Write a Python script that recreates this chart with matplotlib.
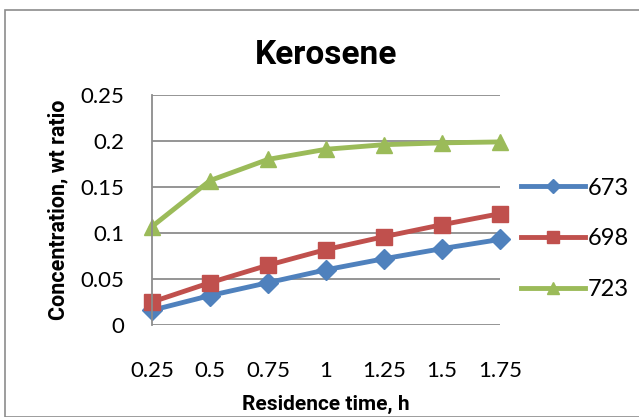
import numpy as np
import matplotlib.pyplot as plt
from matplotlib.patches import Rectangle

plt.rcParams['font.family'] = ['Lato', 'DejaVu Sans']
bold_font = ['Roboto', 'DejaVu Sans']

# residence time (h) and concentration (wt ratio) at three temperatures
time_h = ['0.25', '0.5', '0.75', '1', '1.25', '1.5', '1.75']
c_673 = [0.016, 0.032, 0.046, 0.060, 0.072, 0.083, 0.093]
c_698 = [0.025, 0.046, 0.065, 0.082, 0.096, 0.109, 0.121]
c_723 = [0.107, 0.157, 0.180, 0.191, 0.196, 0.198, 0.199]
temps = ['673', '698', '723']

fig = plt.figure(figsize=(6.39, 4.17), dpi=100)
fig.patches.append(Rectangle((5/639, 0), 1, 1 - 10/417, transform=fig.transFigure,
                             fill=False, edgecolor='#8c8c8c', lw=1.2))
ax = fig.add_axes([152/639, 1 - 325/417, 348/639, 230/417])

x = np.arange(len(time_h))
ax.plot(x, c_673, color='#4F81BD', lw=3.5, marker='D', ms=10, label=temps[0])
ax.plot(x, c_698, color='#C0504D', lw=3.5, marker='s', ms=11, label=temps[1])
ax.plot(x, c_723, color='#9BBB59', lw=3.5, marker='^', ms=12, label=temps[2])

ax.set_xlim(0, len(time_h) - 1)
ax.set_ylim(0, 0.25)
ax.set_xticks(x)
ax.set_xticklabels(time_h)
ax.set_yticks([0, 0.05, 0.1, 0.15, 0.2, 0.25])
ax.set_yticklabels(['0', '0.05', '0.1', '0.15', '0.2', '0.25'])
ax.tick_params(axis='both', length=0, labelsize=16)
ax.tick_params(axis='x', pad=26)
ax.tick_params(axis='y', pad=20)
ax.grid(axis='y', color='#8c8c8c', lw=1.3)
ax.set_axisbelow(True)
for s in ['top', 'right', 'bottom']:
    ax.spines[s].set_visible(False)
ax.spines['left'].set_color('#8c8c8c')
ax.spines['left'].set_linewidth(1.3)
for ln in ax.lines:
    ln.set_clip_on(False)

ax.set_title('Kerosene', fontsize=24, fontweight='bold', family=bold_font, pad=22)
ax.set_xlabel('Residence time, h', fontsize=15, fontweight='bold', family=bold_font,
              labelpad=10)
ax.set_ylabel('Concentration, wt ratio', fontsize=15.5, fontweight='bold', family=bold_font,
              labelpad=8)

ax.legend(loc='center left', bbox_to_anchor=(1.0, 0.375), frameon=False,
          fontsize=17, handlelength=2.7, handletextpad=0.1, labelspacing=1.25,
          markerscale=0.75)

fig.savefig('out.png', dpi=100)
